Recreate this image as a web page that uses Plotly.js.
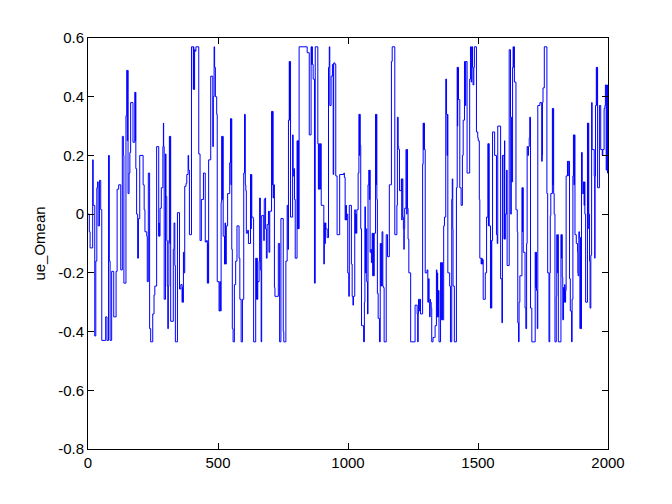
<!DOCTYPE html>
<html>
<head>
<meta charset="utf-8">
<script src="https://cdn.plot.ly/plotly-3.0.1.min.js"></script>
<style>html,body{margin:0;padding:0;background:#fff;}#chart{width:672px;height:504px;}</style>
</head>
<body>
<div id="chart"></div>
<script>
// step change points of ue_Omean: [sample index, value]
const seg1 = [[0,0.0],[5,-0.06],[8,-0.115],[18,0.185],[20,0.03],[26,-0.415],[30,-0.16],[34,0.09],[37,0.11],[39,-0.04],[44,0.115],[49,0.015],[53,-0.43],[68,-0.35],[73,-0.43],[79,0.2],[82,-0.16],[85,-0.43],[91,-0.195],[99,-0.35],[108,-0.195],[112,0.085],[118,0.1],[126,-0.19],[132,0.265],[136,0.2],[138,-0.235],[146,0.335],[149,0.49],[151,0.25],[153,0.49],[154,0.07],[158,0.14],[161,0.21],[164,0.38],[173,0.245],[180,0.415],[182,0.25],[183,0.415],[184,0.155],[187,0.0],[191,-0.15],[194,-0.015],[199,0.2],[212,0.1],[216,0.015],[219,-0.06],[226,-0.075],[228,-0.23],[232,0.14],[237,-0.39],[241,-0.435]];
const seg2 = [[249,-0.34],[254,-0.275],[257,-0.245],[264,0.23],[272,-0.075],[273,-0.03],[274,-0.075],[277,0.02],[282,0.09],[288,0.23],[290,0.31],[291,0.23],[293,-0.29],[298,0.205],[300,0.06],[303,-0.09],[305,-0.245],[307,-0.39],[309,-0.245],[311,-0.09],[313,0.265],[315,-0.1],[316,0.265],[318,-0.365],[328,-0.12],[331,-0.03],[334,-0.175],[336,-0.435],[344,0.005],[352,-0.255],[357,-0.24],[362,-0.3],[363,-0.25],[364,-0.3],[367,-0.13],[369,-0.2],[372,0.095],[377,0.105],[380,0.135],[385,0.2],[387,0.15],[390,-0.07],[398,0.57],[405,0.425],[406,0.57],[407,0.425],[410,0.56],[412,0.555],[415,0.57],[426,0.205],[431,-0.09],[436,0.05],[444,0.14],[451,-0.095],[456,-0.09],[459,-0.235],[461,-0.1],[462,-0.235],[464,0.185],[472,0.47],[480,0.23],[482,0.4],[485,0.57],[487,0.5],[490,0.4],[495,0.34],[497,-0.23]];
const seg3 = [[499,-0.23],[504,-0.33],[507,-0.23],[510,-0.33],[512,0.04],[514,0.265],[517,0.05],[518,0.265],[520,-0.075],[525,-0.17],[527,-0.03],[529,-0.17],[532,-0.04],[537,0.07],[545,0.175],[548,0.325],[550,0.1],[551,0.325],[553,-0.12],[555,-0.39],[558,-0.435],[563,-0.24],[568,-0.16],[573,-0.04],[581,-0.15],[584,-0.29],[589,-0.435],[594,-0.29],[599,0.14],[602,0.34],[605,0.1],[607,0.08],[609,-0.065],[614,-0.055],[617,-0.1],[625,0.135],[627,-0.05],[628,0.135],[630,-0.01],[635,-0.015],[637,-0.435],[645,-0.15],[648,-0.29],[650,-0.15],[651,-0.29],[653,-0.23],[658,-0.16],[660,0.055],[663,-0.19],[666,-0.435],[668,-0.005],[673,-0.005],[676,-0.09],[678,0.05],[681,0.055],[683,-0.05],[686,-0.15],[689,-0.035],[694,0.01],[696,-0.13],[699,0.01],[704,0.01],[706,0.35],[709,0.1],[710,0.35],[712,0.055],[714,0.1],[717,-0.25],[719,-0.28],[727,-0.28],[732,-0.1],[737,-0.435],[742,-0.015]];
const seg4 = [[751,-0.4],[753,-0.435],[761,-0.16],[766,0.03],[769,-0.12],[771,0.32],[774,0.52],[775,0.32],[776,0.52],[779,-0.01],[787,0.27],[789,0.13],[792,0.155],[794,0.05],[797,-0.15],[804,0.25],[806,-0.05],[808,0.25],[810,-0.05],[812,0.57],[843,0.55],[851,0.27],[858,0.57],[860,0.51],[861,0.57],[863,0.51],[866,0.46],[871,-0.235],[874,0.57],[884,0.24],[886,0.085],[888,0.24],[890,0.085],[894,0.24],[897,0.03],[907,-0.17],[909,-0.03],[911,-0.1],[913,-0.03],[915,-0.05],[920,-0.08],[925,0.5],[928,0.57],[930,0.37],[935,0.47],[940,0.51],[943,0.135],[945,0.515],[950,0.51],[953,0.13],[958,-0.07],[968,0.135],[984,0.14],[986,0.125],[989,-0.02],[991,0.03],[994,-0.02],[996,0.0],[999,-0.2]];
const seg5 = [[1001,-0.2],[1003,-0.28],[1005,0.03],[1013,-0.17],[1016,-0.28],[1019,-0.31],[1021,-0.28],[1024,-0.28],[1026,0.015],[1028,-0.065],[1030,0.0],[1032,-0.065],[1034,0.015],[1039,0.14],[1042,0.34],[1044,0.2],[1045,0.34],[1047,0.235],[1049,-0.05],[1052,-0.38],[1060,-0.435],[1063,-0.3],[1065,0.025],[1067,-0.2],[1070,-0.05],[1072,-0.23],[1075,-0.34],[1077,0.1],[1080,0.15],[1082,0.05],[1084,0.15],[1085,-0.13],[1088,-0.12],[1090,-0.165],[1093,-0.065],[1095,-0.21],[1097,-0.065],[1098,-0.21],[1101,-0.065],[1106,0.34],[1108,0.1],[1109,0.34],[1111,0.05],[1113,-0.27],[1116,-0.355],[1121,-0.435],[1124,-0.1],[1126,-0.245],[1128,-0.1],[1130,-0.245],[1131,-0.06],[1134,-0.245],[1136,-0.25],[1139,-0.435],[1147,-0.07],[1152,-0.145],[1159,0.1],[1165,0.1],[1167,0.52],[1170,0.57],[1180,-0.07],[1188,0.03],[1190,0.33],[1193,0.23],[1195,0.22],[1198,0.08],[1205,0.12],[1207,-0.02],[1208,0.12],[1211,-0.01],[1213,-0.05],[1215,-0.12],[1216,-0.05],[1218,0.02],[1223,0.22],[1226,0.0],[1227,0.22],[1229,0.02],[1231,-0.085],[1234,-0.2],[1241,-0.435]];
const seg6 = [[1258,-0.31],[1266,-0.34],[1268,-0.435],[1270,-0.34],[1271,-0.29],[1274,-0.33],[1276,-0.29],[1279,-0.34],[1287,0.17],[1289,0.31],[1291,0.22],[1292,0.31],[1294,0.22],[1297,-0.2],[1304,-0.19],[1307,-0.3],[1310,-0.22],[1312,-0.3],[1314,-0.35],[1316,-0.29],[1317,-0.3],[1320,-0.32],[1322,-0.435],[1327,-0.42],[1333,-0.42],[1335,-0.38],[1340,-0.19],[1342,-0.35],[1344,-0.2],[1345,-0.35],[1348,-0.26],[1350,-0.435],[1356,-0.165],[1358,-0.165],[1360,-0.36],[1362,-0.165],[1363,-0.36],[1368,-0.04],[1371,-0.01],[1376,0.46],[1379,0.34],[1381,0.2],[1383,0.34],[1384,-0.2],[1391,-0.245],[1394,-0.435],[1399,0.05],[1401,0.12],[1403,-0.05],[1404,-0.245],[1409,-0.435],[1417,0.09],[1420,0.5],[1421,0.3],[1422,0.5],[1425,0.39],[1430,0.09],[1435,0.03],[1440,0.2],[1443,0.32],[1448,0.52],[1451,0.37],[1453,0.52],[1458,0.14],[1468,0.46],[1471,0.57],[1474,0.45],[1476,0.57],[1479,0.5],[1481,0.44],[1484,0.5],[1486,0.57],[1494,0.28],[1499,0.26]];
const seg7 = [[1501,0.25],[1505,0.05],[1507,-0.15],[1512,-0.17],[1514,-0.15],[1516,-0.17],[1518,-0.155],[1520,-0.29],[1528,-0.2],[1533,-0.01],[1538,0.24],[1540,-0.04],[1541,0.24],[1543,-0.04],[1548,-0.32],[1550,-0.09],[1551,-0.32],[1553,-0.09],[1556,0.28],[1564,0.2],[1571,-0.07],[1574,-0.1],[1576,0.3],[1587,-0.22],[1592,-0.37],[1594,0.2],[1600,-0.085],[1602,0.25],[1603,-0.085],[1605,0.0],[1610,0.15],[1612,-0.175],[1620,0.56],[1625,0.33],[1626,0.0],[1628,0.33],[1630,0.11],[1633,0.5],[1635,0.57],[1637,0.5],[1638,0.57],[1640,0.45],[1646,0.015],[1651,-0.06],[1653,-0.37],[1656,-0.435],[1658,-0.3],[1661,-0.21],[1669,0.09],[1671,-0.06],[1672,0.09],[1674,-0.13],[1681,-0.32],[1684,-0.39],[1687,-0.1],[1689,0.23],[1692,0.2],[1694,0.23],[1697,0.26],[1699,0.33],[1702,-0.32],[1707,-0.435],[1720,-0.13],[1722,-0.25],[1724,-0.13],[1725,-0.26],[1728,-0.39],[1730,0.37],[1738,0.38],[1745,0.18]];
const seg8 = [[1747,0.2],[1748,0.38],[1750,0.43],[1755,0.57],[1765,0.07],[1768,-0.2],[1773,-0.435],[1776,-0.2],[1778,-0.005],[1780,0.07],[1786,0.36],[1788,0.1],[1789,0.36],[1791,0.07],[1793,0.0],[1796,-0.435],[1801,-0.28],[1803,-0.07],[1805,-0.2],[1807,-0.07],[1809,-0.435],[1819,-0.07],[1821,-0.15],[1822,-0.07],[1824,-0.215],[1826,-0.36],[1829,-0.25],[1831,-0.3],[1833,-0.24],[1835,-0.3],[1837,-0.26],[1839,0.13],[1844,0.18],[1846,0.13],[1847,0.18],[1852,-0.22],[1855,-0.33],[1860,-0.435],[1862,-0.29],[1865,0.13],[1867,0.27],[1869,0.1],[1871,0.27],[1873,-0.07],[1878,-0.1],[1883,-0.13],[1884,-0.2],[1885,-0.21],[1888,-0.06],[1890,-0.08],[1892,-0.39],[1894,-0.08],[1896,-0.39],[1898,0.21],[1901,0.07],[1906,0.11],[1908,0.03],[1910,0.11],[1911,0.0],[1914,-0.3],[1921,0.31],[1923,-0.05],[1924,0.31],[1926,0.0],[1929,-0.16],[1931,-0.32],[1934,-0.14],[1937,0.38],[1939,0.22],[1947,0.13],[1949,-0.15],[1950,0.13],[1952,0.37],[1955,0.5],[1957,0.37],[1958,0.5],[1960,0.09],[1967,0.37],[1972,0.22],[1978,0.2],[1980,0.22],[1985,0.36],[1988,0.37],[1990,0.44],[1993,0.15],[1995,0.44],[1998,0.14],[2000,0.14]];

const xTickVals = [0, 500, 1000, 1500, 2000];
const xTickText = ["0", "500", "1000", "1500", "2000"];
const yTickVals = [-0.8, -0.6, -0.4, -0.2, 0, 0.2, 0.4, 0.6];
const yTickText = ["-0.8", "-0.6", "-0.4", "-0.2", "0", "0.2", "0.4", "0.6"];

const pts = [].concat(seg1, seg2, seg3, seg4, seg5, seg6, seg7, seg8);
const xs = pts.map(p => p[0]);
const ys = pts.map(p => p[1]);

const font = {family: '"Liberation Sans", Arial, sans-serif', size: 15, color: '#000'};
const axisCommon = {
  showline: true, linecolor: '#000', linewidth: 1, mirror: 'ticks',
  ticks: 'inside', ticklen: 6, tickcolor: '#000', tickwidth: 1,
  showgrid: false, zeroline: false, tickfont: font, tickmode: 'array'
};

Plotly.newPlot('chart', [{
  x: xs, y: ys, type: 'scatter', mode: 'lines',
  line: {color: '#0000ff', width: 1, shape: 'hv'},
  hoverinfo: 'skip'
}], {
  width: 672, height: 504,
  margin: {l: 88, r: 64, t: 38, b: 55, pad: 0},
  paper_bgcolor: '#fff', plot_bgcolor: '#fff',
  showlegend: false,
  font: font,
  xaxis: Object.assign({}, axisCommon, {range: [0, 2000], tickvals: xTickVals, ticktext: xTickText}),
  yaxis: Object.assign({}, axisCommon, {range: [-0.8, 0.6], tickvals: yTickVals, ticktext: yTickText,
    title: {text: 'ue_Omean', font: font, standoff: 8}})
}, {staticPlot: true, displayModeBar: false});
</script>
</body>
</html>
